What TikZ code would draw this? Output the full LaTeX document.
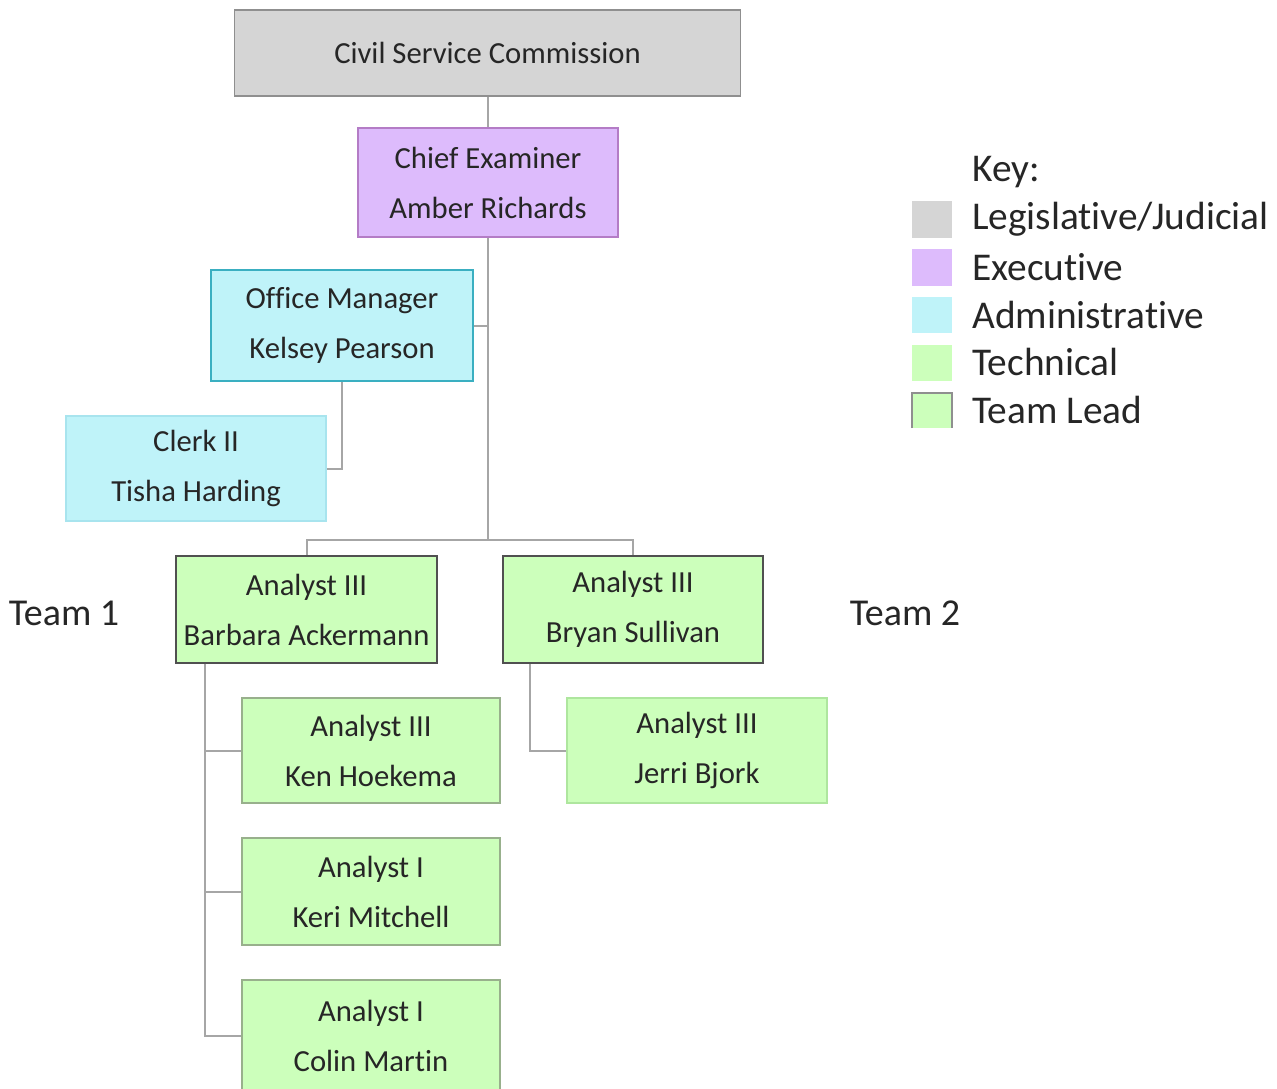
\documentclass[tikz,border=0pt]{standalone}
\usepackage{fontspec}
\setmainfont[Ligatures={NoCommon,NoRare}]{Carlito}
\definecolor{txt}{HTML}{262626}
\definecolor{grayfill}{HTML}{D5D5D5}
\definecolor{graydraw}{HTML}{8F8F8F}
\definecolor{purfill}{HTML}{DDBBFC}
\definecolor{purdraw}{HTML}{B47CC6}
\definecolor{cyanfill}{HTML}{BFF3F9}
\definecolor{cyandraw}{HTML}{3AAFC1}
\definecolor{cyanlight}{HTML}{A8E4EE}
\definecolor{grnfill}{HTML}{CCFFBB}
\definecolor{grndark}{HTML}{505050}
\definecolor{grnmid}{HTML}{98B08C}
\definecolor{grnlight}{HTML}{AEE69E}
\definecolor{conncol}{HTML}{A6A6A6}
\tikzset{
  orgbox/.style 2 args={rectangle, inner sep=0pt, align=center, text=txt,
    font=\fontsize{23}{37.5}\selectfont, line width=1.2pt,
    minimum width=#1*0.75pt, minimum height=#2*0.75pt},
  conn/.style={draw=conncol, line width=1.5pt},
  keytext/.style={anchor=west, inner sep=0pt, text=txt, font=\fontsize{29.5}{30}\selectfont},
  teamtext/.style={inner sep=0pt, text=txt, font=\fontsize{28.5}{30}\selectfont},
}
\begin{document}
\begin{tikzpicture}[x=0.75pt,y=-0.75pt]
\useasboundingbox[fill=white] (0,0) rectangle (1277,1088);

% boxes
\node[orgbox={506}{86}, fill=grayfill, draw=graydraw] (csc) at (487.5,53) {Civil Service Commission};
\node[orgbox={260}{109}, fill=purfill, draw=purdraw] (chief) at (488,182.5) {Chief Examiner\\Amber Richards};
\node[orgbox={262}{111}, fill=cyanfill, draw=cyandraw] (office) at (342,325.5) {Office Manager\\Kelsey Pearson};
\node[orgbox={260}{105}, fill=cyanfill, draw=cyanlight] (clerk) at (196,468.5) {Clerk II\\Tisha Harding};
\node[orgbox={261}{107}, fill=grnfill, draw=grndark] (barbara) at (306.5,609.5) {Analyst III\\Barbara Ackermann};
\node[orgbox={260}{107}, fill=grnfill, draw=grndark] (bryan) at (633,609.5) {Analyst III\\Bryan Sullivan};
\node[orgbox={258}{105}, fill=grnfill, draw=grnmid] (ken) at (371,750.5) {Analyst III\\Ken Hoekema};
\node[orgbox={260}{105}, fill=grnfill, draw=grnlight] (jerri) at (697,750.5) {Analyst III\\Jerri Bjork};
\node[orgbox={258}{107}, fill=grnfill, draw=grnmid] (keri) at (371,891.5) {Analyst I\\Keri Mitchell};
\node[orgbox={258}{112}, fill=grnfill, draw=grnmid] (colin) at (371,1036) {Analyst I\\Colin Martin};

% team labels
\node[teamtext] (team1) at (64,613) {Team 1};
\node[teamtext] (team2) at (905,613) {Team 2};

% connectors
\coordinate (hub) at (488,540);
\draw[conn] (chief.north |- csc.south) -- (chief.north);
\draw[conn] (chief.south) -- (hub);
\draw[conn] (office.east) -- (office.east -| chief.south);
\draw[conn] (office.south) |- (clerk.east);
\draw[conn] (barbara.north) -- (barbara.north |- hub) -- (bryan.north |- hub) -- (bryan.north);
\coordinate (bt) at ([xshift=30*0.75pt]barbara.south west);
\draw[conn] (bt) |- (colin.west);
\draw[conn] (bt) |- (ken.west);
\draw[conn] (bt) |- (keri.west);
\coordinate (st) at ([xshift=28*0.75pt]bryan.south west);
\draw[conn] (st) |- (jerri.west);

% legend
\node[keytext] (key) at (972,172) {Key:};
\fill[grayfill] (912,201) rectangle (952,238);
\node[keytext] (k1) at (972,219) {Legislative/Judicial};
\fill[purfill] (912,249) rectangle (952,286);
\node[keytext] (k2) at (972,267) {Executive};
\fill[cyanfill] (912,297) rectangle (952,333);
\node[keytext] (k3) at (972,315) {Administrative};
\fill[grnfill] (912,345) rectangle (952,381);
\node[keytext] (k4) at (972,362) {Technical};
\fill[grnfill] (912,393) rectangle (952,428);
\draw[graydraw, line width=1.2pt] (912,428) -- (912,393) -- (952,393) -- (952,428);
\node[keytext] (k5) at (972,410) {Team Lead};
\end{tikzpicture}
\end{document}
